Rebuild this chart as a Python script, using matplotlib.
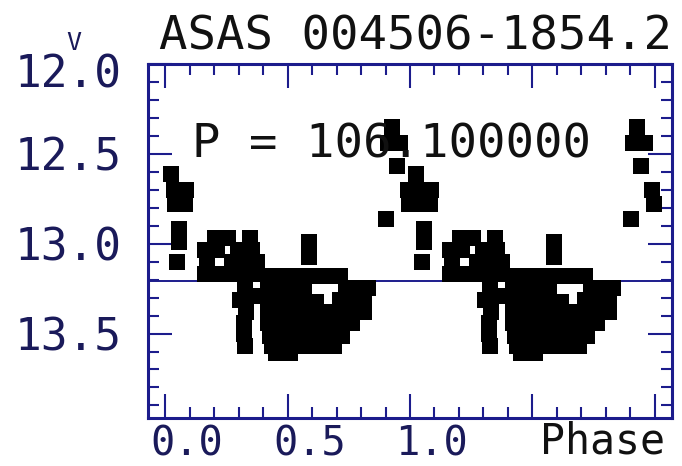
import numpy as np
import matplotlib.pyplot as plt
from matplotlib.ticker import MultipleLocator, FixedLocator
import matplotlib.transforms as mtransforms

star = 'ASAS 004506-1854.2'
period = 106.1
mean_mag = 13.21

# maximum and the points just after it, phase folded into [0, 1)
peak_phase = [0.927, 0.910, 0.960, 0.945, 0.902, 0.990, 0.995,
              0.025, 0.035, 0.085, 0.040, 0.080, 0.057, 0.057, 0.050]
peak_mag = [12.35, 12.44, 12.44, 12.57, 12.86, 12.70, 12.78,
            12.61, 12.70, 12.70, 12.78, 12.78, 12.92, 12.99, 13.10]

# the long faint part of the cycle
hump_phase = [
    0.204, 0.257, 0.347,
    0.163, 0.212, 0.298, 0.355,
    0.171, 0.273, 0.327, 0.376,
    0.163, 0.216, 0.265, 0.314, 0.367,
    0.327, 0.355, 0.306, 0.331, 0.322, 0.322, 0.327,
    0.588, 0.588,
    0.420, 0.469, 0.518, 0.567, 0.616, 0.665, 0.714,
    0.420, 0.469, 0.518, 0.567, 0.739, 0.788, 0.829,
    0.420, 0.469, 0.518, 0.567, 0.714, 0.763, 0.812, 0.616,
    0.420, 0.469, 0.518, 0.567, 0.616, 0.665, 0.714, 0.763, 0.812,
    0.420, 0.469, 0.518, 0.567, 0.616, 0.665, 0.714, 0.763,
    0.429, 0.478, 0.527, 0.576, 0.624, 0.673, 0.722,
    0.437, 0.486, 0.535, 0.592, 0.641, 0.690,
    0.453, 0.510,
]
hump_mag = [
    12.967, 12.967, 12.967,
    13.033, 13.033, 13.033, 13.033,
    13.100, 13.100, 13.100, 13.100,
    13.167, 13.167, 13.167, 13.167, 13.167,
    13.244, 13.289, 13.311, 13.378, 13.444, 13.500, 13.567,
    12.989, 13.072,
    13.178, 13.178, 13.178, 13.178, 13.178, 13.178, 13.178,
    13.244, 13.244, 13.244, 13.244, 13.244, 13.244, 13.244,
    13.311, 13.311, 13.311, 13.311, 13.311, 13.311, 13.311, 13.322,
    13.378, 13.378, 13.378, 13.378, 13.378, 13.378, 13.378, 13.378, 13.378,
    13.444, 13.444, 13.444, 13.444, 13.444, 13.444, 13.444, 13.444,
    13.511, 13.511, 13.511, 13.511, 13.511, 13.511, 13.511,
    13.567, 13.567, 13.567, 13.567, 13.567, 13.567,
    13.611, 13.611,
]

x_ticks = [0.0, 0.5, 1.0, 1.5, 2.0]
x_labels = ['0.0', '0.5', '1.0', '', '']
y_ticks = [12.0, 12.5, 13.0, 13.5]
y_labels = ['12.0', '12.5', '13.0', '13.5']

navy = '#1c1c8c'
ink = '#1a1a5a'
mono = 'DejaVu Sans Mono'

phase = np.array(peak_phase + hump_phase)
mag = np.array(peak_mag + hump_mag)

W, H = 682, 466
fig = plt.figure(figsize=(W / 100, H / 100), dpi=100)
ax = fig.add_axes([148 / W, 48 / H, 524 / W, 354 / H])

# two cycles, as in the ASAS catalogue plots
ax.scatter(np.r_[phase, phase + 1], np.r_[mag, mag], marker='s', s=118,
           c='black', linewidths=0, zorder=3)
ax.axhline(mean_mag, color=navy, lw=1.4, zorder=2)

ax.set_xlim(-0.07, 2.07)
ax.set_ylim(13.97, 12.0)

ax.xaxis.set_major_locator(FixedLocator(x_ticks))
ax.xaxis.set_minor_locator(MultipleLocator(0.1))
ax.yaxis.set_major_locator(FixedLocator(y_ticks))
ax.yaxis.set_minor_locator(MultipleLocator(0.1))
ax.set_xticklabels(x_labels)
ax.set_yticklabels(y_labels)

ax.tick_params(which='both', direction='in', top=True, right=True,
               color=navy, width=1.5)
ax.tick_params(which='major', length=17)
ax.tick_params(which='minor', length=8)
ax.tick_params(axis='y', pad=19, labelsize=32, labelcolor=ink)
ax.tick_params(axis='x', pad=5, labelsize=29, labelcolor=ink)
for lab in ax.get_xticklabels() + ax.get_yticklabels():
    lab.set_family(mono)
# x labels sit a bit right of their ticks in the original
shift = mtransforms.ScaledTranslation(0.22, 0, fig.dpi_scale_trans)
for lab in ax.get_xticklabels():
    lab.set_transform(lab.get_transform() + shift)
# the top label is pushed down a little, under the "V"
top = ax.get_yticklabels()[0]
top.set_transform(top.get_transform() +
                  mtransforms.ScaledTranslation(0, -0.07, fig.dpi_scale_trans))

for s in ax.spines.values():
    s.set_color(navy)
    s.set_linewidth(2.2)

fig.text(159 / W, 1 - 50 / H, star, family=mono, fontsize=34,
         color='#111111', ha='left', va='baseline')
fig.text(192 / W, 1 - 157 / H, 'P = %.6f' % period, family=mono,
         fontsize=34, color='#111111', ha='left', va='baseline', zorder=1)
fig.text(74 / W, 1 - 50 / H, 'V', family=mono, fontsize=18, color=ink,
         ha='center', va='baseline')
fig.text(540 / W, 1 - 454 / H, 'Phase', family=mono, fontsize=30,
         color='#111111', ha='left', va='baseline')

fig.savefig('out.png', dpi=100, facecolor='white')
